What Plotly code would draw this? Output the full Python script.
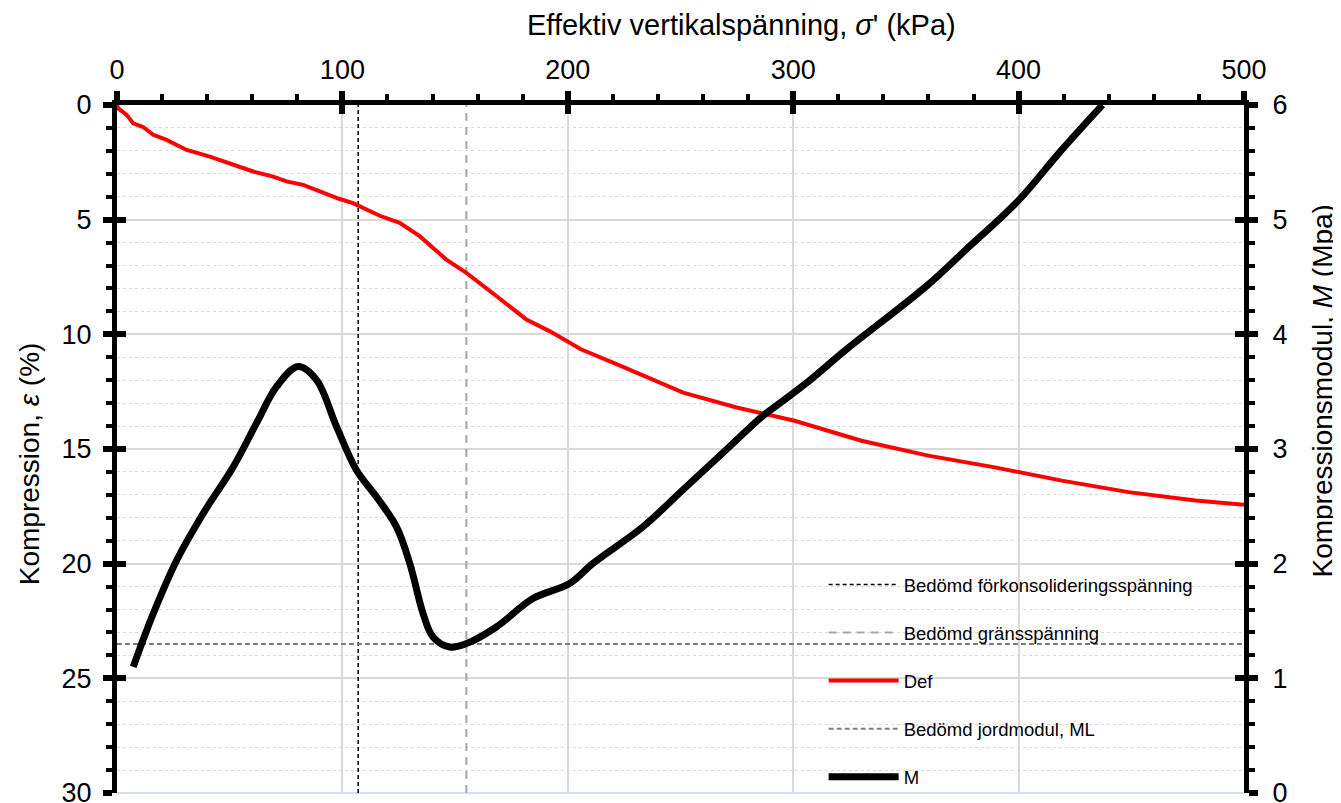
import plotly.graph_objects as go

# ---------------- data ----------------
# Deformation curve (Def): effective vertical stress (kPa) vs compression (%)
def_sigma = [0, 0.6, 4.3, 7.2, 11.7, 16.1, 22.0, 30.9, 41.2, 51.6, 60.4, 69.3, 75.2, 82.6,
             91.4, 98.8, 104.7, 116.6, 125.4, 134.3, 146.1, 155.0, 168.3, 181.6, 191.9,
             205.8, 221.6, 251.2, 274.9, 300.6, 330.3, 359.9, 389.5, 419.2, 448.8, 478.5, 500.0]
def_eps = [0, 0.15, 0.43, 0.80, 0.97, 1.30, 1.52, 1.96, 2.25, 2.61, 2.90, 3.12, 3.33, 3.48,
           3.84, 4.10, 4.28, 4.83, 5.14, 5.72, 6.74, 7.32, 8.33, 9.35, 9.86,
           10.65, 11.30, 12.54, 13.19, 13.77, 14.64, 15.29, 15.80, 16.38, 16.88, 17.25, 17.43]

# Compression modulus curve (M): stress (kPa) vs modulus (MPa)
m_sigma = [7.2, 16.1, 26.5, 38.3, 51.6, 61.9, 70.8, 80.4, 88.5, 97.4, 106.2, 115.1, 124.0,
           129.9, 135.8, 140.2, 147.6, 155.0, 168.3, 184.5, 200.8, 211.1, 233.3, 251.0,
           271.7, 286.6, 294.1, 307.4, 323.4, 358.9, 376.6, 400.3, 418.0, 437.2]
m_mod = [1.10, 1.565, 2.03, 2.44, 2.845, 3.225, 3.544, 3.719, 3.603, 3.195, 2.817, 2.583, 2.321,
         2.002, 1.565, 1.361, 1.273, 1.303, 1.448, 1.696, 1.827, 2.002, 2.321, 2.642,
         3.02, 3.29, 3.40, 3.60, 3.865, 4.417, 4.738, 5.175, 5.583, 6.0]

preconsolidation_kpa = 107.0   # Bedömd förkonsolideringsspänning
limit_stress_kpa = 155.0       # Bedömd gränsspänning
ml_mpa = 1.30                  # Bedömd jordmodul, ML

x_range = [0, 500]
eps_range = [30, 0]
mod_range = [0, 6]

FONT = "Liberation Sans, Arial, sans-serif"
GRID = "#d9d9d9"

fig = go.Figure()

fig.add_trace(go.Scatter(
    x=[preconsolidation_kpa, preconsolidation_kpa], y=eps_range, yaxis="y",
    mode="lines", line=dict(color="black", width=1.5, dash="4px,3px"),
    name="Bedömd förkonsolideringsspänning", legendgroup="a"))
fig.add_trace(go.Scatter(
    x=[limit_stress_kpa, limit_stress_kpa], y=eps_range, yaxis="y",
    mode="lines", line=dict(color="#a6a6a6", width=2, dash="8px,6px"),
    name="Bedömd gränsspänning", legendgroup="b"))
fig.add_trace(go.Scatter(
    x=def_sigma, y=def_eps, yaxis="y", mode="lines",
    line=dict(color="#ff0000", width=4),
    name="Def", legendgroup="c"))
fig.add_trace(go.Scatter(
    x=x_range, y=[ml_mpa, ml_mpa], yaxis="y2", mode="lines",
    line=dict(color="#808080", width=2, dash="5px,3px"),
    name="Bedömd jordmodul, ML", legendgroup="d"))
fig.add_trace(go.Scatter(
    x=m_sigma, y=m_mod, yaxis="y2", mode="lines",
    line=dict(color="black", width=7, shape="spline", smoothing=1.0),
    name="M", legendgroup="e"))
# empty helper traces so the overlay axes (inner halves of major ticks) are drawn
fig.add_trace(go.Scatter(x=[None], y=[None], xaxis="x2", yaxis="y3",
                         showlegend=False, hoverinfo="skip"))
fig.add_trace(go.Scatter(x=[None], y=[None], xaxis="x2", yaxis="y4",
                         showlegend=False, hoverinfo="skip"))

tickfont = dict(family=FONT, size=27, color="black")

# the page body adds an 8 px margin; the figure size/margins compensate for it
fig.update_layout(
    width=1333, height=795,
    paper_bgcolor="white", plot_bgcolor="white",
    margin=dict(l=109, r=97, t=97, b=10, autoexpand=False),
    font=dict(family=FONT, color="black"),
    showlegend=True,
    legend=dict(x=0.627, y=0.33, xanchor="left", yanchor="top",
                bgcolor="rgba(0,0,0,0)", font=dict(family=FONT, size=18.5),
                traceorder="grouped", tracegroupgap=21, itemwidth=70),
    xaxis=dict(side="top", range=x_range, dtick=100, tick0=0, automargin=False,
               showline=True, linecolor="black", linewidth=5,
               ticks="outside", ticklen=9, tickwidth=6, tickcolor="black",
               minor=dict(dtick=20, ticks="outside", ticklen=6, tickwidth=4,
                          tickcolor="black", showgrid=False),
               showgrid=True, gridcolor=GRID, gridwidth=1.5, zeroline=False,
               tickfont=tickfont, ticklabelstandoff=1, ticklabeloverflow="allow"),
    xaxis2=dict(overlaying="x", side="top", range=x_range, dtick=100, tick0=0,
                automargin=False,
                ticks="inside", ticklen=9, tickwidth=6, tickcolor="black",
                showticklabels=False, showgrid=False, showline=False, zeroline=False),
    yaxis=dict(range=eps_range, dtick=5, tick0=0, automargin=False,
               showline=True, linecolor="black", linewidth=5,
               ticks="outside", ticklen=9, tickwidth=6, tickcolor="black",
               minor=dict(dtick=1, ticks="outside", ticklen=6, tickwidth=4,
                          tickcolor="black", showgrid=True, gridcolor=GRID,
                          griddash="dot", gridwidth=1),
               showgrid=True, gridcolor=GRID, gridwidth=1.5, zeroline=False,
               tickfont=tickfont, ticklabelstandoff=6, ticklabeloverflow="allow"),
    yaxis2=dict(overlaying="y", side="right", range=mod_range, dtick=1, tick0=0,
                automargin=False,
                showline=True, linecolor="black", linewidth=5,
                ticks="outside", ticklen=9, tickwidth=6, tickcolor="black",
                minor=dict(dtick=0.2, ticks="outside", ticklen=6, tickwidth=4,
                           tickcolor="black", showgrid=False),
                showgrid=False, zeroline=False,
                tickfont=tickfont, ticklabelstandoff=9, ticklabeloverflow="allow"),
    yaxis3=dict(overlaying="y", side="left", range=eps_range, dtick=5, tick0=0,
                automargin=False,
                ticks="inside", ticklen=9, tickwidth=6, tickcolor="black",
                showticklabels=False, showgrid=False, showline=False, zeroline=False),
    yaxis4=dict(overlaying="y", side="right", range=mod_range, dtick=1, tick0=0,
                automargin=False,
                ticks="inside", ticklen=9, tickwidth=6, tickcolor="black",
                showticklabels=False, showgrid=False, showline=False, zeroline=False),
    annotations=[
        dict(text="Effektiv vertikalspänning, <i>σ</i>' (kPa)", xref="paper", yref="paper",
             x=0.554, y=1.116, xanchor="center", yanchor="middle", showarrow=False,
             font=dict(family=FONT, size=29)),
        dict(text="Kompression, <i>ε</i> (%)", xref="paper", yref="paper",
             x=-0.078, y=0.478, xanchor="center", yanchor="middle", showarrow=False,
             textangle=-90, font=dict(family=FONT, size=28)),
        dict(text="Kompressionsmodul, <i>M</i> (Mpa)", xref="paper", yref="paper",
             x=1.0695, y=0.584, xanchor="center", yanchor="middle", showarrow=False,
             textangle=-90, font=dict(family=FONT, size=28)),
    ],
    shapes=[dict(type="line", xref="paper", yref="paper", x0=0, x1=1, y0=0, y1=0,
                 line=dict(color="#d6e0ea", width=2), layer="below")],
)

fig.write_html("out.html")
